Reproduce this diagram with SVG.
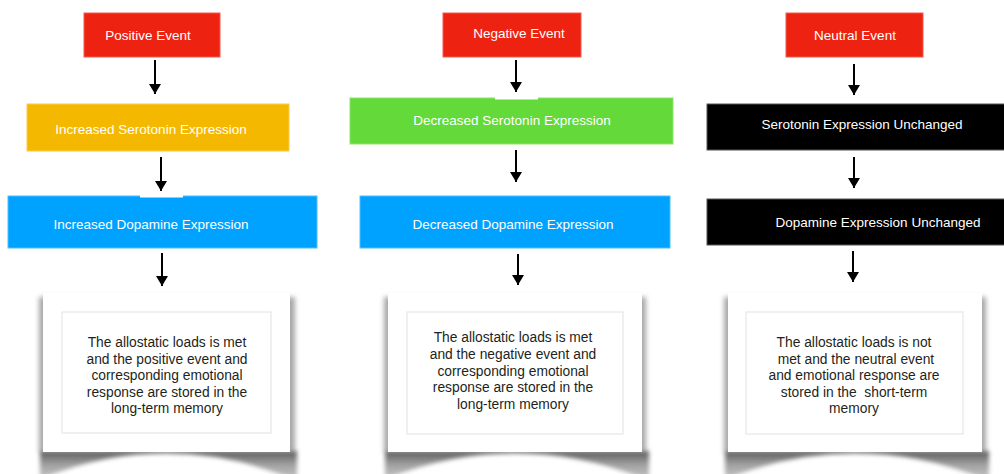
<svg xmlns="http://www.w3.org/2000/svg" width="1004" height="474" viewBox="0 0 1004 474">
<style>
.t{font-family:"Liberation Sans",Arial,sans-serif;font-size:13.5px;fill:#fff;text-anchor:middle}
.m{font-family:"Liberation Sans",Arial,sans-serif;font-size:13.8px;fill:#231f20;text-anchor:middle}
.red{fill:#ee2210;stroke:#f25a4d;stroke-width:1}
.ora{fill:#f5b800;stroke:#f8cc4d;stroke-width:1}
.grn{fill:#63d93a;stroke:#8be46b;stroke-width:1}
.blu{fill:#00a2ff;stroke:#4dbdff;stroke-width:1}
.blk{fill:#000;stroke:#555;stroke-width:1}
.card{fill:#fff}
.inner{fill:#fff;stroke:#e6e6e6;stroke-width:1.2}
.side{fill:#a8a8a8;filter:url(#blur3)}
.curl{fill:url(#curlg);filter:url(#blur2)}
.arr{stroke:#000;stroke-width:2;fill:none;marker-end:url(#ah)}
</style>
<defs>
<marker id="ah" markerUnits="userSpaceOnUse" markerWidth="10" markerHeight="12" viewBox="0 0 10 12" refX="10" refY="6" orient="auto">
<path d="M0,0 L10,6 L0,12 Z" fill="#000"/>
</marker>
<filter id="blur3" x="-10%" y="-10%" width="120%" height="120%"><feGaussianBlur stdDeviation="2.5"/></filter>
<filter id="blur2" x="-10%" y="-30%" width="120%" height="160%"><feGaussianBlur stdDeviation="2.2"/></filter>
<linearGradient id="curlg" x1="0" y1="0" x2="0" y2="1">
<stop offset="0" stop-color="#5a5a5a"/>
<stop offset="0.5" stop-color="#a0a0a0"/>
<stop offset="1" stop-color="#c4c4c4"/>
</linearGradient>
</defs>
<rect width="1004" height="474" fill="#fff"/>

<g id="positive-event"><rect class="red" x="84" y="13" width="136" height="44"/><text class="t" x="148" y="39.5">Positive Event</text></g>
<g id="increased-serotonin"><rect class="ora" x="27" y="104" width="262" height="47"/><text class="t" x="151" y="134">Increased Serotonin Expression</text></g>
<g id="increased-dopamine"><rect class="blu" x="8" y="196" width="309" height="52"/><rect x="140" y="195" width="43" height="2.5" fill="#fff"/><text class="t" x="151" y="229">Increased Dopamine Expression</text></g>
<g id="positive-memory">
<rect class="side" x="39" y="297" width="256" height="155"/>
<path class="curl" d="M40 451 L297 451 L297 478 L290 478 Q166 428 43 478 L40 478 Z"/>
<rect class="card" x="43" y="293" width="247" height="159"/>
<rect class="inner" x="62" y="312" width="209" height="121"/>
<text class="m" x="167" y="347">The allostatic loads is met</text>
<text class="m" x="167" y="363.5">and the positive event and</text>
<text class="m" x="167" y="380">corresponding emotional</text>
<text class="m" x="167" y="396.5">response are stored in the</text>
<text class="m" x="167" y="413">long-term memory</text>
</g>

<g id="negative-event"><rect class="red" x="443" y="13" width="138" height="44"/><text class="t" x="519" y="38">Negative Event</text></g>
<g id="decreased-serotonin"><rect class="grn" x="350" y="98" width="323" height="46"/><rect x="495" y="97" width="43" height="2.5" fill="#fff"/><text class="t" x="512" y="125">Decreased Serotonin Expression</text></g>
<g id="decreased-dopamine"><rect class="blu" x="360" y="196" width="310" height="52"/><text class="t" x="513" y="229">Decreased Dopamine Expression</text></g>
<g id="negative-memory">
<rect class="side" x="384" y="297" width="262" height="155"/>
<path class="curl" d="M385 451 L649 451 L649 478 L642 478 Q515 428 388 478 L385 478 Z"/>
<rect class="card" x="388" y="293" width="254" height="159"/>
<rect class="inner" x="407" y="312" width="216" height="122"/>
<text class="m" x="513" y="342">The allostatic loads is met</text>
<text class="m" x="513" y="358.8">and the negative event and</text>
<text class="m" x="513" y="375.6">corresponding emotional</text>
<text class="m" x="513" y="392.4">response are stored in the</text>
<text class="m" x="513" y="409.2">long-term memory</text>
</g>

<g id="neutral-event"><rect class="red" x="786" y="13" width="137" height="44"/><text class="t" x="855" y="40">Neutral Event</text></g>
<g id="serotonin-unchanged"><rect class="blk" x="707" y="104" width="300" height="46"/><text class="t" x="862" y="129">Serotonin Expression Unchanged</text></g>
<g id="dopamine-unchanged"><rect class="blk" x="707" y="199" width="300" height="46"/><text class="t" x="878" y="227">Dopamine Expression Unchanged</text></g>
<g id="neutral-memory">
<rect class="side" x="724" y="297" width="262" height="155"/>
<path class="curl" d="M725 451 L989 451 L989 478 L982 478 Q855 428 728 478 L725 478 Z"/>
<rect class="card" x="728" y="293" width="254" height="159"/>
<rect class="inner" x="746" y="312" width="217" height="122"/>
<text class="m" x="854" y="347" xml:space="preserve">The allostatic loads is not</text>
<text class="m" x="854" y="363.5" xml:space="preserve"> met and the neutral event</text>
<text class="m" x="854" y="380" xml:space="preserve">and emotional response are</text>
<text class="m" x="854" y="396.5" xml:space="preserve">stored in the  short-term</text>
<text class="m" x="854" y="413" xml:space="preserve">memory</text>
</g>

<g id="connectors">
<path class="arr" d="M155 60 V94"/>
<path class="arr" d="M161 157 V191"/>
<path class="arr" d="M162 253 V286"/>
<path class="arr" d="M516 60 V92"/>
<path class="arr" d="M516 150 V182"/>
<path class="arr" d="M518 254 V285"/>
<path class="arr" d="M854 64 V95"/>
<path class="arr" d="M854 157 V188"/>
<path class="arr" d="M853 251 V282"/>
</g>
</svg>
